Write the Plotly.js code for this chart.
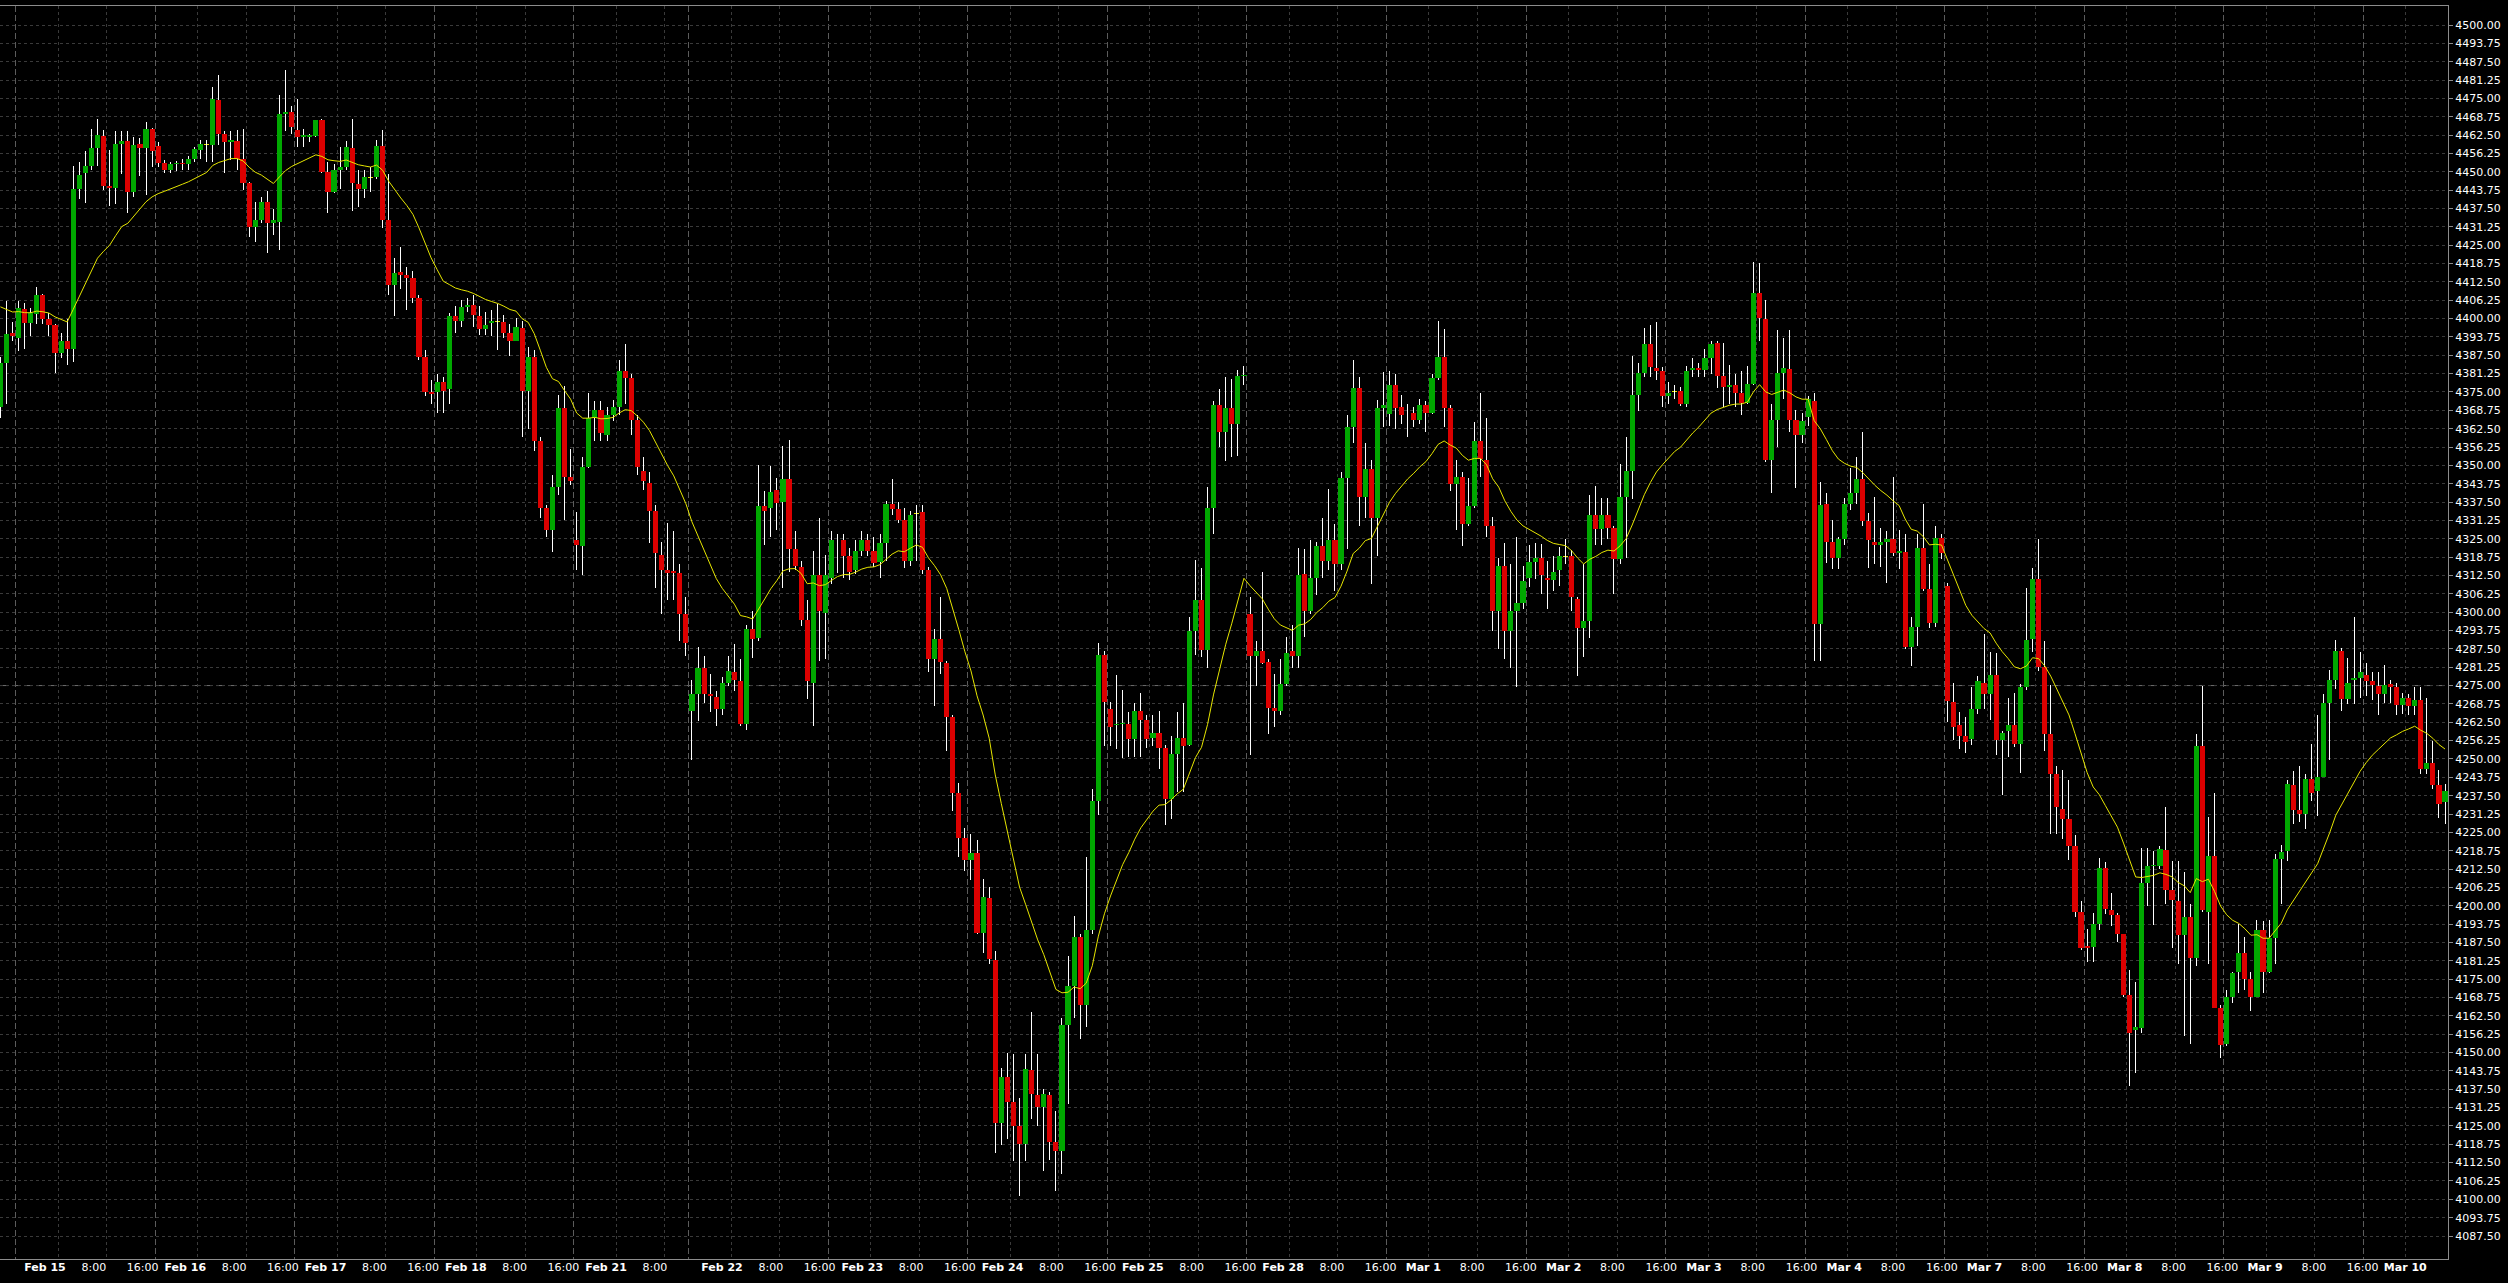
<!DOCTYPE html>
<html>
<head>
<meta charset="utf-8">
<script src="https://cdn.plot.ly/plotly-3.0.1.min.js"></script>
<style>
html,body{margin:0;padding:0;background:#000;}
#chart{width:2508px;height:1283px;}
.scatterlayer .trace:first-child path.js-line{shape-rendering:crispEdges;}
</style>
</head>
<body>
<div id="chart"></div>
<script>
// ---------------- DATA (hourly bars, Feb 14 evening .. Mar 10) ----------------
const openPx = [
4370,4385,4395,4393.5,4403.25,4398.5,4401.5,4408,4400,4397.75,4388.25,4392.5,4389.5,4444,4449.75,4452,4458,4462.25,4445.25,4444.5,4459.5,4460.5,4443,4459.5,4458,4464.5,
4458.75,4453,4450.75,4452.5,4453,4452.75,4454.5,4457.5,4459.25,4459.25,4474.5,4463,4460,4460.5,4454.5,4446.25,4431.25,4433.75,4439.75,4432.5,4433,4469.75,4470.5,
4464.25,4462,4462,4462.25,4467.5,4450,4443.25,4450.75,4451.5,4458.25,4446,4444,4448,4448.25,4458.75,4433.5,4411.5,4416,4415,4414,4407,4387,4375,
4375,4378.5,4376,4400.75,4399.25,4404,4404.75,4400.75,4396.5,4398.5,4399,4399,4395.25,4392.5,4396.75,4375.5,4387,4358.25,4335.5,4328,4342.75,4369.5,4346,
4324.5,4322.5,4349.5,4366.25,4369,4360.25,4367,4370,4382,4379.75,4365.5,4348.25,4344,4334.5,4319.5,4314.5,4314,4313.5,4299.25,
4266.5,4272.25,4281,4272,4271,4267,4276,4279.75,4276.5,4262,4294.25,4291.25,4336.25,4335.5,4341.75,4337.5,4345.25,4321.5,4315.25,4297.25,4276,4312.5,4299.75,
4311.75,4324.5,4324.5,4319,4314.25,4321,4324.5,4321,4317,4323.5,4336.75,4335.25,4331.5,4317.5,4333.5,4334.25,4314.5,4284,4290.75,4282.75,4264.25,4238.5,4223,
4215.5,4218,4190.75,4202.75,4181.5,4126,4141.75,4133.25,4125,4119,4144,4135.5,4131.5,4135.5,4119.5,4116.5,4159.25,4172.5,4189.25,4166.25,4191.75,4235.75,4285.5,
4267,4261.5,4262,4262,4256.75,4266.5,4263.25,4257.25,4258.75,4253.75,4236.25,4251.75,4257.25,4254.75,4293.5,4304.25,4287.25,4335.5,4370.5,4361.5,4369.5,4364.25,4380.5,
4299.25,4285,4286.75,4283,4267.25,4266.5,4275.5,4286.75,4285,4313,4300.25,4311.75,4322.5,4317.5,4324.5,4316.5,4345.75,4363,4376.5,4339.25,4348.75,4332,4369.5,
4367.5,4377.5,4370,4367.75,4368,4365.5,4370.5,4368,4379.75,4387,4369.5,4343.75,4346,4330,4336,4358.25,4351.75,4329.5,4300.25,4315.75,4293.5,4300.25,4303.25,
4311.5,4317,4318.5,4311.75,4311,4314.25,4319,4319.25,4304.5,4294.5,4297,4333,4328.25,4333,4328.75,4318,4339.25,4348.25,4374,4381.5,4391.25,4383.25,4382,
4373.75,4375.25,4375.25,4370.75,4382.5,4383.25,4382.5,4386.5,4391.75,4380.5,4376.75,4377.25,4374.75,4371.25,4377.75,4408.75,4399.75,4352,4365.5,4381.5,4383,4365.5,4360.5,
4366.5,4372,4296,4337,4324,4318.5,4325,4337,4340.5,4345.25,4331,4324,4323,4324,4325,4320,4320.5,4288,4295,4322,4307.75,4296.25,4325.25,
4308.75,4269.25,4261.5,4257.75,4256.75,4267,4275.75,4272,4278.5,4256.5,4259.5,4261.5,4255,4274.5,4290.75,4311.25,4281.25,4258.5,4244.75,4233,4229.5,4220.25,4198,
4186.25,4186,4193.75,4213,4198.5,4197,4190.25,4169.75,4157.75,4158.5,4207.75,4213.5,4213.5,4219,4205.25,4201.75,4190,4196,4182.25,4254.5,4198,4217,4165,
4153,4169,4177.5,4183.75,4175,4169,4191.75,4177.5,4189,4216,4218.75,4241.25,4232.75,4231.25,4243.25,4239,4244,4269,4276.75,4286.75,4270.5,4276.75,4277.5,
4278.75,4276.5,4275,4272,4275.5,4274.5,4268.25,4270.75,4268,4270,4246.75,4248.5,4241,4235.5
];
const highPx = [
4387,4406,4399,4406,4405.25,4403.5,4410.75,4408.5,4401.75,4398,4395.25,4400,4452,4453.5,4457.25,4464.75,4468,4464.25,4457.5,4464,4464,4464,4461.75,4461.5,4467,4465,
4460.25,4454,4453.5,4453.75,4454.5,4455.5,4458.5,4461,4460.75,4479,4483,4463.75,4464,4464.25,4464.5,4446.5,4439.75,4441.5,4443.5,4437.5,4476.25,4484.75,4472.25,
4474.75,4464.5,4463,4467.75,4468,4453.5,4452.75,4458.5,4460.5,4468,4450.5,4450.5,4451.75,4460.75,4464.25,4449.25,4420.5,4424.5,4417.5,4416.25,4408,4389.25,4379,
4381,4380,4402,4404.25,4406.25,4407,4408,4404.25,4402.25,4403,4405,4401.25,4398.25,4400.25,4399.25,4390.25,4389.25,4359.5,4336.5,4346.75,4374,4377,4355.75,
4334,4352.75,4374.5,4372,4372,4370,4372.25,4386,4391.25,4381,4367,4352.75,4347.75,4336.5,4324,4330.5,4327.5,4316.5,4305.25,
4277,4288,4285,4279,4273,4278,4285,4289.25,4284,4295.5,4300.25,4350.25,4341.25,4349.75,4345.75,4356.75,4358.5,4327.5,4317.5,4304.25,4321,4332,4319.5,
4327.5,4326.5,4326.5,4321.75,4324.5,4327.5,4326.5,4325.5,4326.5,4338,4345.25,4337.5,4335.5,4334.5,4336.5,4336.5,4315.5,4294.25,4305.25,4283.25,4265,4241.75,4226.5,
4224.5,4222.5,4209.25,4206.25,4184.5,4144.75,4149.75,4149.5,4134.5,4149.5,4163.75,4149.5,4137.5,4136.5,4130,4161.75,4183,4196.5,4190.25,4216.5,4239.75,4289.5,4286.75,
4269.5,4278.5,4273.5,4266,4269,4272.5,4265,4265,4266.5,4254.75,4257.75,4266,4269,4298.25,4317.75,4315,4342.75,4372,4376,4380,4379.5,4382.5,4384,
4305.25,4290.25,4313.75,4284,4279,4284,4291.5,4295.5,4321.75,4321.5,4324.5,4324,4332,4342,4330,4347.75,4367,4385.75,4380,4357.75,4351.75,4372.25,4381.75,
4382,4381,4374,4371,4370,4372.5,4372,4381,4399.25,4396.5,4370.5,4352,4347.75,4345.75,4364.75,4374.5,4366,4332.5,4318.5,4323.5,4316.5,4325.75,4315.75,
4323,4323.5,4323.25,4317.5,4319.25,4322.25,4325,4321.25,4305.25,4316.5,4339.75,4343,4339,4339,4329.5,4350.5,4359.5,4387.25,4384.75,4396.75,4397.75,4399,4383.5,
4378.25,4377.25,4376.75,4383.75,4386.5,4384.75,4389.75,4392.5,4392.25,4391.75,4384.25,4381,4382,4383.75,4419.25,4419,4406.25,4370.75,4396,4393.25,4396,4368.75,4368,
4373.5,4374.5,4344.5,4340.75,4331.25,4325.75,4339,4349.25,4353,4361.25,4333.75,4339.25,4328.75,4327.75,4346,4328,4326.75,4298.25,4326.75,4336.75,4316.5,4329.5,4326.75,
4310,4275.75,4266,4264.25,4274.5,4278.25,4292.5,4286.5,4286.25,4259.5,4270.75,4272.5,4275.5,4308.25,4315,4325,4290.25,4275.25,4247.5,4246.25,4242.75,4224,4201.5,
4192.25,4197.5,4216.25,4214.75,4204.25,4197.5,4190.5,4178.25,4174,4219.75,4219.75,4218.75,4220.25,4233.5,4215.25,4215.25,4211.5,4200.5,4258.5,4275,4230.25,4238.5,4166.25,
4171.25,4177.5,4193.75,4189.25,4177.5,4195.25,4194.75,4195,4217.5,4220.75,4242.75,4246,4247.5,4245,4255,4265,4272.25,4280.25,4290.5,4287.75,4284.25,4298.5,4286.5,
4282.75,4279.5,4279.5,4282,4276.75,4276,4272.5,4272.25,4274.5,4274.5,4270.75,4256.25,4246.25,4241.5
];
const lowPx = [
4366,4371,4392.5,4389,4389.5,4394,4398.25,4398.25,4394,4381.5,4386.5,4384.25,4385.25,4440.75,4439.5,4450.5,4452,4443.75,4438.25,4439,4449.25,4436,4441.5,4448.5,4442,4451.75,
4451.75,4449.75,4449.75,4450.25,4450.5,4450.5,4453.5,4454.5,4453.5,4453.5,4459,4449.75,4454,4450.5,4443.75,4427.75,4426,4432.5,4422.5,4428.5,4423.5,4463.75,4463,
4458.5,4458.5,4460,4461.75,4449.75,4436,4442.75,4444,4450.5,4436.75,4438,4441,4443.25,4447.5,4430.75,4408,4401,4410,4403,4405.25,4386,4373.5,4371,
4368,4368,4371,4395.25,4397.25,4402.25,4397.25,4394.25,4394.25,4394,4389.25,4393.25,4387.25,4392.25,4359.5,4362.25,4354.75,4332,4325.75,4320.5,4339.75,4331.25,4343.25,
4314.5,4312.5,4349,4358.25,4358.25,4358.25,4365,4367,4371,4360.25,4346.75,4341.75,4323.5,4308.25,4299.25,4304.25,4304.25,4290.25,4285,
4249.75,4263,4269,4266,4261.25,4265,4275,4273,4261.25,4260,4284.25,4290.25,4323,4325.5,4328,4308.25,4313.75,4314.5,4295.25,4270.5,4261.25,4283.5,4284,
4309.5,4313.5,4311.75,4311,4313,4319,4319,4315.5,4311.75,4317.5,4333.25,4330.5,4315,4315.75,4317.5,4313,4279.5,4268,4279,4252.75,4232.25,4216.5,4212,
4208.75,4190.25,4184,4180,4115.75,4118.5,4120.5,4113,4101.25,4113,4127.25,4125,4109.75,4113.5,4103,4108.5,4132.5,4161.75,4154.75,4158.75,4190.5,4231,4254.5,
4254.5,4253.25,4250.25,4250.75,4250.75,4250.5,4253.75,4254.5,4246.75,4227.5,4229.5,4238.75,4238.75,4254.5,4285.5,4284.75,4281,4326.5,4356.25,4351.5,4352.75,4353.25,4377.5,
4251.25,4275,4282.5,4258.5,4260.75,4265,4275,4281,4281,4291.5,4299.25,4305.75,4311.5,4314.5,4307.25,4314.5,4321.5,4357.75,4329.25,4332,4309.75,4319,4363,
4363.5,4362.25,4364,4359.5,4363,4364,4361.5,4367.5,4379,4363,4341.25,4328,4322.5,4329.5,4335.5,4346,4325.5,4293.5,4287.5,4284,4281,4274.5,4301.25,
4308.5,4311.25,4306.25,4301.25,4307.25,4308.75,4316.5,4300.25,4278.25,4284.75,4291.25,4323,4323,4325,4306.25,4316.25,4318.5,4338.5,4368.5,4380.25,4380,4379,4369.75,
4370.75,4372.5,4370.25,4369.75,4380,4380,4380,4381,4376.25,4369.75,4370.75,4369.75,4367,4371,4377.5,4392.25,4351.25,4340.75,4356.25,4372.5,4361.25,4342.25,4357.5,
4363.25,4283.25,4283.25,4316.75,4314.75,4314.75,4323,4334.75,4337,4329.25,4315,4316.5,4315.5,4310,4319.25,4314.75,4287.5,4281.5,4288.5,4307.25,4294.5,4295,4318,
4262.75,4256.5,4253.25,4252,4254.75,4265.25,4267,4263.25,4251.25,4237.75,4250.75,4254,4245.25,4273.5,4286.5,4280,4252.75,4224.5,4224.5,4222.75,4215.5,4196.25,4185,
4180.75,4181,4191.75,4197.25,4193.25,4187.5,4169,4138.5,4143,4156.5,4200,4193.5,4212.5,4200.5,4185.75,4180.25,4155.75,4153,4179.5,4198,4180.25,4165,4148.25,
4152.25,4167,4170.25,4171.25,4164.25,4168.75,4170.25,4177,4180.25,4200.5,4215.25,4227.75,4228.5,4226.25,4235.75,4230.5,4244,4249.75,4273.75,4266.5,4268.75,4268.75,4270.75,
4271.5,4270.25,4265,4269,4269,4265,4265.25,4265,4265,4245,4244.75,4239.75,4230,4227.75
];
const closePx = [
4385,4394.75,4394,4403.75,4398.5,4401.75,4408,4400,4397.75,4388.25,4392.5,4389.75,4444,4449,4452,4458,4462.5,4445.25,4444.5,4459.5,4460.5,4443.25,4459,4458,4464.5,4457.25,
4453,4450.75,4452.75,4453,4452.5,4454.5,4457.75,4459.5,4459.25,4474.75,4463,4460,4460.75,4454.5,4446.25,4431.25,4433.75,4439.75,4432.5,4433.5,4469.75,4470.5,4465.25,
4462,4462.5,4462.5,4467.5,4450,4443.25,4450.75,4451.5,4458.5,4446.25,4444,4448.25,4448,4458.75,4433.75,4411.5,4415.5,4415,4414,4407,4387,4375,4374.25,
4378.5,4375.5,4400.75,4399.25,4404,4404.75,4401.25,4396.5,4397.75,4399.25,4399,4395.25,4392.5,4397.25,4375.5,4387,4358.25,4335.5,4328,4342.75,4369.5,4346,4344.75,
4323,4349.5,4366.25,4369,4361,4367,4370,4382,4379.75,4365.5,4349.5,4344.75,4334.5,4320,4314.5,4313.5,4313.5,4299.25,4289.5,
4272,4281,4272,4271.5,4267,4276,4280,4277,4262,4294.25,4290.75,4336.25,4334.5,4341,4337.25,4345.25,4321.5,4315.75,4297.25,4276.5,4312.5,4300.25,4312.5,
4324.5,4324.75,4319,4313.75,4321,4324.5,4321,4316.75,4323.5,4336.75,4335.25,4331.5,4317.5,4333.25,4333.5,4314.5,4284,4290.75,4283,4264.25,4238.5,4223,4215.5,
4218,4190.75,4203,4182,4126,4141.75,4133.25,4125,4119,4144.5,4136,4131.5,4136,4119.5,4116.5,4159.25,4172.5,4189.25,4166.25,4191.75,4235.75,4285.5,4269.5,
4261,4262,4262.25,4256.75,4266.5,4263.25,4256.75,4258.75,4253.75,4236.25,4251.75,4257.25,4254.5,4293.5,4304.25,4287.25,4335.5,4370.5,4361.5,4369.5,4364.25,4380.5,4380.75,
4285,4286.75,4282.75,4267.25,4266.5,4275.5,4286,4285,4312.5,4300.25,4311.75,4322.5,4317.5,4324.5,4316.5,4345.75,4363,4376.5,4339.25,4348.75,4332,4369.5,4370.5,
4377.5,4369.5,4367,4368,4365.5,4370.5,4368,4379.75,4387,4369.5,4343.75,4346,4330,4336,4358.25,4352.25,4329.5,4300.25,4315.75,4293.5,4300.25,4303.25,4310.5,
4317,4318.5,4312.5,4311,4313.75,4319.25,4319,4305,4294.5,4297,4333.25,4328.25,4333,4328.75,4318,4339.25,4348.25,4374,4381.5,4391.25,4383.5,4382,4373.75,
4374.75,4375.25,4370.75,4382.25,4383.25,4382.5,4386.5,4391.25,4380.5,4376.75,4377.25,4374.75,4371.25,4377.75,4408.75,4400.25,4352,4365.5,4381.5,4383.25,4365.5,4360.5,4365,
4372.5,4296,4336.5,4324,4318.5,4325,4337,4340.5,4345.25,4331,4324.5,4323,4324,4325,4320,4321,4288,4295,4321.75,4307.75,4296.25,4325.25,4320.25,
4269.75,4261,4257.75,4255.75,4267,4276.5,4272,4278.5,4256.5,4259,4261.5,4255,4274.5,4290.5,4311.25,4281.25,4258.5,4244.75,4233.5,4229.5,4220.25,4198,4185.75,
4185.5,4193.75,4213,4199,4197,4190.25,4169.75,4156.75,4158.75,4207.75,4213.5,4214,4219.25,4205.5,4202,4190,4196,4182.25,4254.5,4198.5,4217,4165.25,4152.5,
4168.75,4177,4184,4175,4169,4191.75,4177.5,4189,4216,4218.25,4241.5,4232.75,4231.25,4243.25,4238.5,4244,4269,4276.75,4286.75,4270.5,4275.75,4277.5,4279.5,
4276.5,4275.25,4272,4275.25,4274.5,4268.25,4270.75,4268,4270,4246.75,4248.5,4241,4234.75,4239
];

// sessions: first bar index of each trading day and its label
const sessionNames = ['Feb 15','Feb 16','Feb 17','Feb 18','Feb 21','Feb 22','Feb 23','Feb 24','Feb 25','Feb 28',
                      'Mar 1','Mar 2','Mar 3','Mar 4','Mar 7','Mar 8','Mar 9','Mar 10'];
const sessionStart = [3,26,49,72,95,114,137,160,183,206,229,252,275,298,321,344,367,390];
const hourNames = ['8:00','16:00'];
const hourOffset = [7,15];             // bars after the session start
const maPeriod = 20;                   // exponential moving average of the close
const maSeed = 4404;                   // MA value read at the first visible bar
const levelLine = 4275;
const yTickStart = 4087.5, yTickEnd = 4500, yTickStep = 6.25;

// ---------------- STYLE / GEOMETRY ----------------
const bullColor = '#00a800', bearColor = '#dc0000', dojiColor = '#e6e600', maColor = '#e6e600';
const plotW = 2448, barPitch = 6.066, firstBarPx = 0.43;
const labelPitch = 6.099, labelOrigin = 29.75, hourLabelShift = 1, minLabelRoom = 6;

const N = closePx.length;
const idx = Array.from({length: N}, (_, i) => i);
const bodyBase = [], bodyLen = [], bodyColor = [];
const wickX = [], wickY = [];
const dojiHalf = 0.17;
for (let i = 0; i < N; i++) {
  const o = openPx[i], c = closePx[i], h = highPx[i], l = lowPx[i];
  const top = Math.max(o, c), bot = Math.min(o, c);
  if (c === o) { bodyBase.push(o - dojiHalf); bodyLen.push(2 * dojiHalf); bodyColor.push(dojiColor); }
  else { bodyBase.push(bot); bodyLen.push(top - bot); bodyColor.push(c > o ? bullColor : bearColor); }
  if (h > top) { wickX.push(i, i, null); wickY.push(top, h, null); }
  if (l < bot) { wickX.push(i, i, null); wickY.push(l, bot, null); }
}
const alpha = 2 / (maPeriod + 1);
const ma = [];
closePx.forEach((c, i) => { ma.push(i === 0 ? maSeed : ma[i - 1] + alpha * (c - ma[i - 1])); });

// grid lines and labels
const dayLines = sessionStart.map(s => s - 0.5);
const hourLines = [];
const labelVals = [], labelText = [];
sessionStart.forEach((s, d) => {
  labelVals.push(s - 0.5); labelText.push('<b>' + sessionNames[d] + '</b>');
  const isLast = d + 1 >= sessionStart.length;
  const len = (isLast ? N : sessionStart[d + 1]) - s;
  hourOffset.forEach((off, k) => {
    if (off < len) {
      hourLines.push(s + off - 0.5);
      // a label is skipped when it would run into the next day's label
      if (isLast || len - off >= minLabelRoom) {
        labelVals.push(s + off - 0.5 + hourLabelShift); labelText.push(hourNames[k]);
      }
    }
  });
});
const yTicks = [];
for (let v = yTickStart; v <= yTickEnd + 1e-9; v += yTickStep) yTicks.push(v);

const xRange = [-firstBarPx / barPitch, (plotW - firstBarPx) / barPitch];
const labelRange = [-labelOrigin / labelPitch, (plotW - labelOrigin) / labelPitch];

const data = [
  {type: 'scatter', mode: 'lines', x: wickX, y: wickY, line: {color: '#ffffff', width: 1},
   hoverinfo: 'skip', showlegend: false, connectgaps: false},
  {type: 'bar', x: idx, y: bodyLen, base: bodyBase, width: 0.85,
   marker: {color: bodyColor, line: {width: 0}}, hoverinfo: 'skip', showlegend: false},
  {type: 'scatter', mode: 'lines', x: idx, y: ma, line: {color: maColor, width: 1},
   hoverinfo: 'skip', showlegend: false},
  {type: 'scatter', mode: 'markers', x: labelVals, y: labelVals.map(() => null), xaxis: 'x2',
   hoverinfo: 'skip', showlegend: false}
];

const layout = {
  width: 2508, height: 1283,
  paper_bgcolor: '#000000', plot_bgcolor: '#000000',
  margin: {l: 0, r: 60, t: 6, b: 24},
  showlegend: false,
  font: {family: 'DejaVu Sans', color: '#ffffff', size: 11},
  xaxis: {
    range: xRange, fixedrange: true, automargin: false,
    tickmode: 'array', tickvals: dayLines, showticklabels: false, ticks: '',
    showgrid: true, gridcolor: '#5c5c5c', griddash: '6px,3px', gridwidth: 1,
    minor: {tickmode: 'array', tickvals: hourLines, showgrid: true, gridcolor: '#3a3a3a',
            griddash: '3px,3px', gridwidth: 1, ticks: ''},
    showline: true, linecolor: '#8c8c8c', linewidth: 1, mirror: true, zeroline: false
  },
  xaxis2: {
    overlaying: 'x', anchor: 'y', side: 'bottom', range: labelRange, fixedrange: true,
    automargin: false, tickmode: 'array', tickvals: labelVals, ticktext: labelText,
    tickangle: 0, ticks: '', showgrid: false, zeroline: false, showline: false,
    tickfont: {family: 'DejaVu Sans', size: 11, color: '#ffffff'}
  },
  yaxis: {
    side: 'right', range: [4079.67, 4506.48], fixedrange: true, automargin: false,
    tickmode: 'array', tickvals: yTicks, ticktext: yTicks.map(v => v.toFixed(2)),
    ticks: 'outside', ticklen: 4, tickcolor: '#8c8c8c',
    tickfont: {family: 'DejaVu Sans', size: 11, color: '#ffffff'},
    showgrid: true, gridcolor: '#3a3a3a', griddash: '3px,3px', gridwidth: 1,
    showline: true, linecolor: '#8c8c8c', linewidth: 1, mirror: true, zeroline: false
  },
  bargap: 0,
  shapes: [{type: 'line', xref: 'paper', x0: 0, x1: 1, yref: 'y', y0: levelLine, y1: levelLine,
            line: {color: '#6e6e6e', width: 1, dash: '8px,4px'}, layer: 'below'}]
};

Plotly.newPlot('chart', data, layout, {staticPlot: true, displayModeBar: false});
</script>
</body>
</html>
